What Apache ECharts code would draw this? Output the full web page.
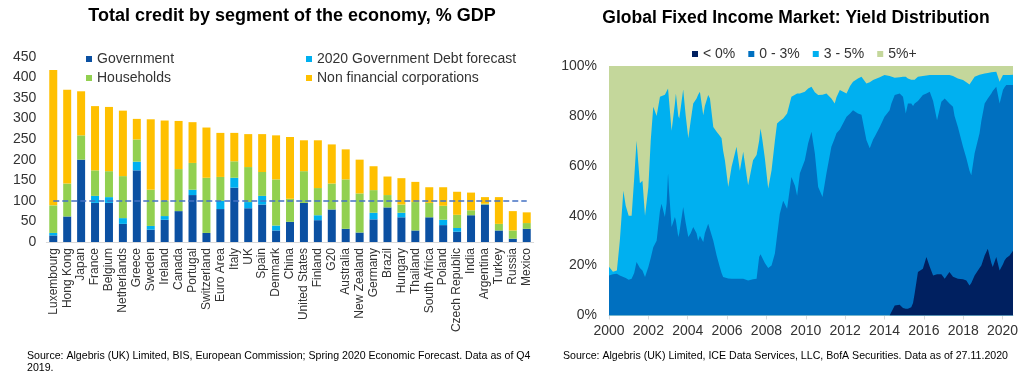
<!DOCTYPE html>
<html>
<head>
<meta charset="utf-8">
<script src="https://cdn.jsdelivr.net/npm/echarts@6/dist/echarts.min.js"></script>
<style>
html,body{margin:0;padding:0;background:#fff;}
#chart{width:1024px;height:382px;}
</style>
</head>
<body>
<div id="chart"></div>
<script>
// ---------- Left chart data (% GDP) ----------
const countries = ['Luxembourg','Hong Kong','Japan','France','Belgium','Netherlands','Greece','Sweden','Ireland','Canada','Portugal','Switzerland','Euro Area','Italy','UK','Spain','Denmark','China','United States','Finland','G20','Australia','New Zealand','Germany','Brazil','Hungary','Thailand','South Africa','Poland','Czech Republic','India','Argentina','Turkey','Russia','Mexico'];
const government = [16,62,200,95,95,44,174,30,54,75,114,22,80,132,82,91,28,49,95,53,79,32,23,55,84,60,28,60,41,25,65,91,28,8,32];
const forecast2020 = [6,0,0,17,14,14,21,9,9,0,13,0,20,24,15,21,12,0,0,12,0,0,0,16,0,11,0,0,13,9,0,0,0,0,0];
const households = [67,80,59,62,63,102,54,88,38,102,65,134,58,40,85,58,112,56,77,66,63,120,95,55,30,20,69,35,34,32,12,2,16,20,14];
const nonFinancialCorps = [329,228,107,156,156,159,50,171,194,117,99,122,107,69,80,92,107,150,75,116,95,73,82,58,45,64,49,38,45,56,43,16,65,47,26];
const leftYTicks = {min:0, max:450, interval:50};
const referenceLevel = 100;

// ---------- Right chart data (% of market) ----------
const dates = [2000.00,2000.20,2000.40,2000.55,2000.73,2000.85,2001.00,2001.15,2001.28,2001.40,2001.50,2001.57,2001.70,2001.83,2002.00,2002.12,2002.25,2002.42,2002.59,2002.67,2002.84,2002.93,2003.00,2003.05,2003.18,2003.35,2003.40,2003.52,2003.57,2003.77,2003.90,2004.03,2004.15,2004.28,2004.45,2004.53,2004.62,2004.79,2004.87,2005.04,2005.13,2005.30,2005.47,2005.63,2005.72,2005.80,2005.89,2006.06,2006.23,2006.48,2006.65,2006.82,2007.07,2007.32,2007.50,2007.63,2007.70,2007.80,2007.92,2008.09,2008.26,2008.43,2008.54,2008.68,2008.85,2009.05,2009.27,2009.45,2009.56,2009.70,2009.95,2010.12,2010.29,2010.46,2010.63,2010.85,2011.05,2011.30,2011.47,2011.56,2011.73,2011.81,2012.07,2012.25,2012.40,2012.65,2012.83,2012.91,2013.08,2013.25,2013.42,2013.50,2013.76,2014.00,2014.26,2014.35,2014.52,2014.77,2014.94,2015.08,2015.19,2015.36,2015.45,2015.53,2015.70,2015.95,2016.13,2016.30,2016.47,2016.67,2016.89,2017.06,2017.30,2017.48,2017.56,2017.73,2017.99,2018.16,2018.24,2018.32,2018.41,2018.58,2018.83,2018.92,2019.09,2019.25,2019.43,2019.50,2019.68,2019.85,2020.02,2020.10,2020.19,2020.36,2020.53];
const negYield = [0,0,0,0,0,0,0,0,0,0,0,0,0,0,0,0,0,0,0,0,0,0,0,0,0,0,0,0,0,0,0,0,0,0,0,0,0,0,0,0,0,0,0,0,0,0,0,0,0,0,0,0,0,0,0,0,0,0,0,0,0,0,0,0,0,0,0,0,0,0,0,0,0,0,0,0,0,0,0,0,0,0,0,0,0,0,0,0,0,0,0,0,0,0,0,0.5,4,4.3,3,2.7,2.7,3.3,5,8.7,17.4,18.7,23.4,19.5,16,16.5,16.5,14.7,17.4,15.5,14.7,14.7,14.5,14,13,12,13,16,19,20,24,26.8,21,19.4,23.4,18,20.5,22,23,24,26];
const yield0to3 = [16,16.5,16.7,16,15.4,15,14.3,14.7,17,21.4,20,19,18,15.4,19.4,23,27.4,30,42,44.8,39.5,45,57,50,35.5,39.5,38,31.5,33,43.5,37,31.5,33,35.5,33,30,32,29.5,33,36.8,36.5,30,24,19.4,17,15.4,15,14.8,14.7,14.7,14.7,14.7,14,14.5,14.7,23.4,24.5,24.8,21,19,20,24.8,32,40.8,46,42.8,55.5,52,48,57,62.2,69,73.6,65,51.5,47.5,57,67.6,71,73,74.5,75,79.7,81,82.3,81,80.5,79.7,70.3,67,70.5,71.6,75.6,79.7,82.3,84.5,84.4,84.7,84.7,78.3,82.3,81.7,79,76.3,68.6,69.7,65.6,70.2,70,61.8,69.2,72.3,67.6,68.2,65.3,60.9,53.1,49,49.2,46,43.2,49,54,58,61,60.2,68,70.6,68.3,67,69.9,69.5,69.4,68.4,66.4];
const yield3to5 = [3.5,1,1.3,14,34.6,29,25.7,25.3,38,48.6,40,34,36,24.6,32.1,47,56.3,50,45.7,43.2,49,44,34,41.7,38.5,45.5,51,48.5,46,47.1,43,39.5,45,49.5,54,58.5,57.7,50.8,51,51.6,50.5,45.6,49.6,52.6,54,50.6,47.2,36.7,44.9,52.9,43.3,50.9,38.2,47.7,49.6,46.6,50.5,45.2,42,31.9,38.2,45.2,45,37.2,33,38.2,32.2,36.5,41,32,27.5,22,18.1,24.5,36.9,41,32,19.4,14,14.5,15.9,15,9.3,11,11.4,14,15.2,15.3,22.7,26.5,23.9,22.9,19.9,16.7,13.7,10.8,6.9,6.5,8,14.7,10,9.5,9.7,9.5,9.7,7.6,7.2,6.7,10.4,18.1,10.7,9.4,11.4,12.3,15.5,19.4,26.8,30.5,30.8,34.6,36.2,30.7,23.5,18.7,12,10.2,8.5,7.6,6,8.7,6,4.9,4,4,4.1];
const yieldOver5 = [80.5,82.5,82,70,50,56,60,60,45,30,40,47,46,60,48.5,30,16.3,20,12.3,12,11.5,11,9,8.3,26,15,11,20,21,9.4,20,29,22,15,13,11.5,10.3,19.7,16,11.6,13,24.4,26.4,28,29,34,37.8,48.5,40.4,32.4,42,34.4,47.8,37.8,35.7,30,25,30,37,49.1,41.8,30,23,22,21,19,12.3,11.5,11,11,10.3,9,8.3,10.5,11.6,11.5,11,13,15,12.5,9.6,10,11,8,6.3,5,4.3,5,7,6.5,5.6,5.5,4.5,3.6,4,4.2,4.7,4.5,4.3,4.3,5,5.5,6.3,5.5,4.3,4,3.8,3.6,3.6,3.6,3.6,3.6,3.6,4,4.5,5,5.6,6.5,7,7.4,7.6,4.3,3.5,3.3,3,2.8,2.5,2.4,2.3,6.3,3.6,3.6,3.6,3.6,3.5];
const yearTicks = {min:2000, max:2020.53, interval:2};
const pctTicks = {min:0, max:100, interval:20};

// ---------- Chart ----------
const FONT = "'Liberation Sans', Arial, sans-serif";
const TXT = '#333';

// cumulative stacking of the yield buckets (bottom to top)
const bucketsBottomUp = [negYield, yield0to3, yield3to5, yieldOver5];
const cumulative = [];
bucketsBottomUp.forEach((arr, k) => {
  cumulative.push(arr.map((v, i) => v + (k > 0 ? cumulative[k - 1][i] : 0)));
});
const pairCum = k => dates.map((d, i) => [d, +cumulative[k][i].toFixed(2)]);

const chart = echarts.init(document.getElementById('chart'), null, {renderer: 'canvas'});

const barSeries = (name, data, color, extra) => Object.assign({
  name, type: 'bar', stack: 'credit', data, barWidth: 8,
  itemStyle: {color}, xAxisIndex: 0, yAxisIndex: 0
}, extra || {});

const areaSeries = (name, k, color) => ({
  name, type: 'line', data: pairCum(k),
  xAxisIndex: 1, yAxisIndex: 1, symbol: 'none', smooth: false,
  lineStyle: {width: 0, color}, itemStyle: {color},
  areaStyle: {color, opacity: 1, origin: 'start'}
});

chart.setOption({
  animation: false,
  backgroundColor: '#fff',
  textStyle: {fontFamily: FONT},
  title: [
    {text: 'Total credit by segment of the economy, % GDP', left: 287, top: 2, textAlign: 'center',
     textStyle: {fontFamily: FONT, fontSize: 18, fontWeight: 'bold', color: '#000'}},
    {text: 'Global Fixed Income Market: Yield Distribution', left: 791, top: 4, textAlign: 'center',
     textStyle: {fontFamily: FONT, fontSize: 17.5, fontWeight: 'bold', color: '#000'}}
  ],
  legend: [
    {data: ['Government', 'Households'], orient: 'vertical', left: 81, top: 47, itemWidth: 6, itemHeight: 6,
     icon: 'rect', itemGap: 5, textStyle: {fontSize: 14, color: TXT, fontFamily: FONT}},
    {data: ['2020 Government Debt forecast', 'Non financial corporations'], orient: 'vertical', left: 301, top: 47,
     itemWidth: 6, itemHeight: 6, icon: 'rect', itemGap: 5, textStyle: {fontSize: 14, color: TXT, fontFamily: FONT}},
    {data: ['< 0%', '0 - 3%', '3 - 5%', '5%+'], orient: 'horizontal', left: 687, top: 42, itemWidth: 6, itemHeight: 6,
     icon: 'rect', itemGap: 13, textStyle: {fontSize: 14, color: TXT, fontFamily: FONT}}
  ],
  grid: [
    {left: 46.3, right: 490.3, top: 56.7, bottom: 140},
    {left: 609, right: 11, top: 66, bottom: 66.5}
  ],
  xAxis: [
    {type: 'category', gridIndex: 0, data: countries,
     axisLine: {lineStyle: {color: '#D9D9D9', width: 1}}, axisTick: {show: false},
     axisLabel: {interval: 0, rotate: 90, fontSize: 12, color: TXT, margin: 6, fontFamily: FONT}},
    {type: 'value', gridIndex: 1, min: yearTicks.min, max: yearTicks.max, interval: yearTicks.interval,
     splitLine: {show: false},
     axisLine: {lineStyle: {color: '#D9D9D9', width: 1}},
     axisTick: {show: true, length: 4, lineStyle: {color: '#D9D9D9'}},
     axisLabel: {fontSize: 14, color: TXT, margin: 9, fontFamily: FONT, showMaxLabel: false,
       formatter: v => (Math.abs(v - Math.round(v)) < 1e-6 && Math.round(v) % 2 === 0) ? String(Math.round(v)) : ''}}
  ],
  yAxis: [
    {type: 'value', gridIndex: 0, min: leftYTicks.min, max: leftYTicks.max, interval: leftYTicks.interval,
     splitLine: {show: false}, axisLine: {show: false}, axisTick: {show: false},
     axisLabel: {fontSize: 14, color: TXT, margin: 10, fontFamily: FONT}},
    {type: 'value', gridIndex: 1, min: pctTicks.min, max: pctTicks.max, interval: pctTicks.interval,
     splitLine: {show: false}, axisLine: {show: false}, axisTick: {show: false},
     axisLabel: {fontSize: 14, color: TXT, margin: 12, fontFamily: FONT, formatter: '{value}%'}}
  ],
  series: [
    barSeries('Government', government, '#0B50A2', {
      markLine: {symbol: 'none', silent: true, label: {show: false}, z: 10,
        lineStyle: {color: '#4472C4', type: [6, 3], width: 1.6},
        data: [[{coord: [countries[0], referenceLevel]}, {coord: [countries[countries.length - 1], referenceLevel]}]]}
    }),
    barSeries('2020 Government Debt forecast', forecast2020, '#00B0F0'),
    barSeries('Households', households, '#92D050'),
    barSeries('Non financial corporations', nonFinancialCorps, '#FFC000'),
    areaSeries('5%+', 3, '#C4D79B'),
    areaSeries('3 - 5%', 2, '#00B0F0'),
    areaSeries('0 - 3%', 1, '#0070C0'),
    areaSeries('< 0%', 0, '#002060')
  ],
  graphic: [
    {type: 'text', left: 27, top: 350, style: {
      text: 'Source: Algebris (UK) Limited, BIS, European Commission; Spring 2020 Economic Forecast. Data as of Q4\n2019.',
      font: "10.6px 'Liberation Sans', Arial, sans-serif", fill: '#000', lineHeight: 12}},
    {type: 'text', left: 563, top: 350, style: {
      text: 'Source: Algebris (UK) Limited, ICE Data Services, LLC, BofA Securities. Data as of 27.11.2020',
      font: "10.6px 'Liberation Sans', Arial, sans-serif", fill: '#000', lineHeight: 12}}
  ]
});
</script>
</body>
</html>
